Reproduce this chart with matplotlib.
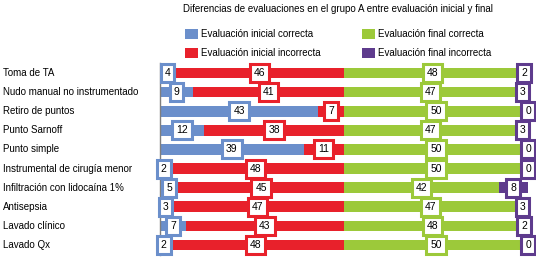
import matplotlib
matplotlib.use("Agg")
import matplotlib.pyplot as plt
from matplotlib.patches import Patch

plt.rcParams['font.family'] = ['Liberation Sans', 'DejaVu Sans']
FS = 7

categories = ["Toma de TA", "Nudo manual no instrumentado", "Retiro de puntos",
              "Punto Sarnoff", "Punto simple", "Instrumental de cirugía menor",
              "Infiltración con lidocaína 1%", "Antisepsia", "Lavado clínico", "Lavado Qx"]
inicial_correcta = [4, 9, 43, 12, 39, 2, 5, 3, 7, 2]
inicial_incorrecta = [46, 41, 7, 38, 11, 48, 45, 47, 43, 48]
final_correcta = [48, 47, 50, 47, 50, 50, 42, 47, 48, 50]
final_incorrecta = [2, 3, 0, 3, 0, 0, 8, 3, 2, 0]

series = [
    ("Evaluación inicial correcta", inicial_correcta, "#6b8fcb"),
    ("Evaluación inicial incorrecta", inicial_incorrecta, "#e8212b"),
    ("Evaluación final correcta", final_correcta, "#9cc93a"),
    ("Evaluación final incorrecta", final_incorrecta, "#5e3b8d"),
]

fig = plt.figure(figsize=(5.36, 2.58), dpi=100)
ax = fig.add_axes([160/536, 1 - 254.5/258, 368/536, 191/258])

y = list(range(len(categories)))
left = [0] * len(categories)
for name, vals, color in series:
    ax.barh(y, vals, left=left, height=0.56, color=color, label=name)
    for yi, (l, v) in enumerate(zip(left, vals)):
        ax.text(l + v / 2, yi, str(v), ha='center', va='center', fontsize=7.5,
                bbox=dict(boxstyle='square,pad=0.38', facecolor='white',
                          edgecolor=color, linewidth=2.2))
    left = [l + v for l, v in zip(left, vals)]

ax.set_xlim(0, 100)
ax.set_ylim(len(categories) - 0.5, -0.5)
ax.set_yticks(y)
ax.set_yticklabels([])
for yi, c in enumerate(categories):
    ax.text(-157/368*100, yi, c, ha='left', va='center', fontsize=FS)
ax.set_xticks([])
ax.tick_params(left=False)
for s in ['top', 'right', 'bottom']:
    ax.spines[s].set_visible(False)
ax.spines['left'].set_color('#7f7f7f')
ax.spines['left'].set_linewidth(1)

fig.text(183/536, 1 - 9/258, "Diferencias de evaluaciones en el grupo A entre evaluación inicial y final",
         ha='left', va='center', fontsize=FS)
h = [Patch(facecolor=c, label=n) for n, _, c in series]
kw = dict(frameon=False, fontsize=FS, handlelength=1.4, handleheight=1.2,
          labelspacing=0.9, handletextpad=0.3, borderpad=0, loc='upper left')
fig.legend(handles=h[:2], bbox_to_anchor=(180/536, 1 - 24/258), **kw)
fig.legend(handles=h[2:], bbox_to_anchor=(357/536, 1 - 24/258), **kw)

fig.savefig("out.png", dpi=100)
